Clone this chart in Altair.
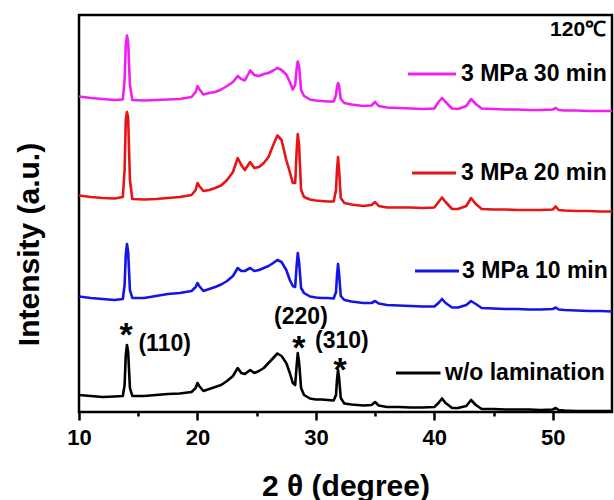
import altair as alt
import pandas as pd

# 2θ positions (degree) at which the patterns were read
two_theta = [
    10, 11, 12, 13, 13.7, 13.85, 13.95, 14.05, 14.15, 14.3,
    14.5, 15.5, 16.5, 17.5, 18.5, 19.5, 19.85, 20.0, 20.15, 20.5,
    21, 21.5, 22, 22.5, 23.0, 23.4, 23.7, 24.0, 24.45, 24.8,
    25.2, 25.6, 26.0, 26.4, 26.75, 27.1, 27.5, 27.8, 28.05, 28.25,
    28.38, 28.47, 28.58, 28.75, 29.0, 29.5, 30, 30.5, 31.0, 31.5,
    31.7, 31.78, 31.87, 31.96, 32.1, 32.4, 33, 34, 34.7, 35.0,
    35.3, 36, 37, 38, 39, 40.0, 40.35, 40.65, 40.95, 41.5,
    42, 42.7, 43.1, 43.5, 44, 45, 46, 47, 48, 49,
    50.0, 50.25, 50.5, 51, 52, 53, 54, 55,
]

# stacked intensities (a.u.)
wo_lamination = [
    17, 16, 15, 15.5, 16, 27, 57, 67, 60, 24,
    16, 16, 17, 18, 18.5, 20, 24, 29, 26, 21,
    23, 25, 27, 31, 36, 44, 39, 38, 42, 39,
    41, 44, 49, 54, 58.5, 56, 49, 39, 29, 27,
    47, 59, 50, 24, 17, 13.5, 12.5, 12.5, 12, 11.5,
    17, 32, 42, 34, 14, 8.5, 7.5, 6.5, 7, 10,
    6.5, 5, 5, 4.5, 4.5, 5, 9, 13.5, 9, 4,
    4, 6, 12, 7, 3, 3, 2.5, 2.5, 2.5, 2,
    2.5, 4, 2, 1.5, 1, 1, 1, 1,
]
mpa3_10min = [
    115.5, 114, 113, 112, 113, 127, 157, 168, 160, 122,
    114, 114, 116, 118, 119, 121, 125, 129, 126, 121,
    123, 125, 127.5, 131, 136, 144, 141, 141, 144, 141,
    142, 144, 146, 149, 152, 150, 142, 132, 126, 125,
    147, 159, 150, 124, 119, 115.5, 114.5, 114, 114, 113.5,
    120, 136, 148, 138, 116, 112, 110.5, 109, 109, 111,
    108.5, 107, 106.5, 106, 105.5, 105.5, 109, 113, 109, 104.5,
    104.5, 107, 111, 108, 104, 103.5, 103, 103, 102.5, 102.5,
    103, 104.5, 102.5, 102, 101.5, 101, 101, 100.5,
]
mpa3_20min = [
    216.5, 215, 214, 213.5, 215, 242, 292, 300, 294, 232,
    213, 212.5, 213, 214, 215, 217, 222, 229, 226, 221,
    222, 224, 226.5, 232, 240, 254, 247, 242, 250, 244,
    245, 249, 255, 267, 276.5, 272, 252, 240, 229, 229,
    262, 278, 267, 222, 215, 212.5, 211.5, 211, 210.5, 210.5,
    222, 242, 255, 242, 214, 209, 207.5, 206, 207, 210,
    206, 204.5, 204.5, 204.5, 204, 204.5, 210, 214.5, 210, 203,
    203, 206, 214, 208, 203, 202.5, 202.5, 202, 202, 202,
    202.5, 205.5, 202, 201.5, 201, 201, 200.5, 200.5,
]
mpa3_30min = [
    315.5, 314, 313, 312, 312.5, 332, 367, 376.5, 370, 327,
    312, 311.5, 312, 312.5, 313, 315, 320, 326, 323, 317.5,
    319, 320, 322.5, 326, 330, 336, 333, 331.5, 341.5, 337,
    336, 338, 339, 341.5, 344, 342, 337.5, 330, 322.5, 327,
    344, 350.5, 346, 322, 316, 312.5, 311.5, 311, 310.5, 310.5,
    317, 325, 329, 326, 313, 309, 307.5, 306, 306.5, 310,
    306, 304.5, 304, 303.5, 303, 303.5, 310, 314, 310, 303.5,
    303, 306, 313, 308, 303.5, 303, 302.5, 302.5, 302, 302,
    302.5, 304, 302, 301.5, 301.5, 301, 301, 301,
]

series_names = ["w/o lamination", "3 MPa 10 min", "3 MPa 20 min", "3 MPa 30 min"]
series_colors = ["#000000", "#1414E6", "#E61414", "#F01EF0"]

# inline legend (segment start/end, label start, level)
legend_seg_start = [36.76, 38.37, 38.12, 37.78]
legend_seg_end = [40.52, 42.08, 41.83, 41.83]
legend_text_x = [40.9, 42.34, 42.25, 42.25]
legend_level = [39, 141, 239, 338]

# peak annotations
star_x = [13.97, 28.57, 32.04]
star_y = [86.5, 73, 51]
hkl_labels = ["(110)", "(220)", "(310)"]
hkl_x = [15.02, 28.74, 29.93]
hkl_y = [68, 95, 71]
hkl_align = ["left", "center", "left"]

temp_label = ["120℃"]
temp_x = [54.5]
temp_y = [382]

FONT = "Liberation Sans"

rows = []
for name, vals in zip(series_names, [wo_lamination, mpa3_10min, mpa3_20min, mpa3_30min]):
    for x, y in zip(two_theta, vals):
        rows.append({"two_theta": x, "intensity": y, "series": name})
df = pd.DataFrame(rows)

leg = pd.DataFrame({
    "series": series_names,
    "x1": legend_seg_start,
    "x2": legend_seg_end,
    "tx": legend_text_x,
    "y": legend_level,
})
stars = pd.DataFrame({"x": star_x, "y": star_y, "t": ["*"] * len(star_x)})
hkl = pd.DataFrame({"x": hkl_x, "y": hkl_y, "t": hkl_labels, "a": hkl_align})
temp = pd.DataFrame({"x": temp_x, "y": temp_y, "t": temp_label})

xscale = alt.Scale(domain=[10, 55], nice=False, zero=False)
yscale = alt.Scale(domain=[0, 397], nice=False, zero=False)
cscale = alt.Scale(domain=series_names, range=series_colors)

x_axis = alt.Axis(
    values=[10, 15, 20, 25, 30, 35, 40, 45, 50],
    labelExpr="datum.value % 10 === 0 ? datum.label : ''",
    tickSize={"condition": {"test": "datum.value % 10 === 0", "value": 8}, "value": 4},
    tickWidth=2.5,
    tickColor="black",
    labelFont=FONT,
    labelFontWeight="bold",
    labelFontSize=22,
    labelColor="black",
    labelPadding=7,
    labelFlush=False,
    labelOverlap=False,
    domain=False,
    grid=False,
    title="2 θ (degree)",
    titleFont=FONT,
    titleFontSize=30,
    titleFontWeight="bold",
    titleColor="black",
    titleBaseline="middle",
    titleY=74,
)
y_axis = alt.Axis(
    labels=False,
    ticks=False,
    domain=False,
    grid=False,
    title="Intensity (a.u.)",
    titleFont=FONT,
    titleFontSize=30,
    titleFontWeight="bold",
    titleColor="black",
    titleAngle=270,
    titleBaseline="middle",
    titleX=-50,
    titleY=229,
)


def X(field):
    return alt.X(field, scale=xscale, axis=x_axis)


def Y(field):
    return alt.Y(field, scale=yscale, axis=y_axis)


lines = alt.Chart(df).mark_line(strokeWidth=2.6, clip=True, strokeJoin="round").encode(
    x=X("two_theta:Q"),
    y=Y("intensity:Q"),
    color=alt.Color("series:N", scale=cscale, legend=None),
    detail="series:N",
)

leg_rules = alt.Chart(leg).mark_rule(strokeWidth=3).encode(
    x=X("x1:Q"),
    x2="x2:Q",
    y=Y("y:Q"),
    color=alt.Color("series:N", scale=cscale, legend=None),
)
leg_text = alt.Chart(leg).mark_text(
    align="left", baseline="middle", font=FONT, fontWeight="bold", fontSize=23, color="black"
).encode(x=X("tx:Q"), y=Y("y:Q"), text="series:N")

star_text = alt.Chart(stars).mark_text(
    align="center", baseline="middle", font=FONT, fontWeight="bold", fontSize=34, dy=10, color="black"
).encode(x=X("x:Q"), y=Y("y:Q"), text="t:N")

hkl_left = alt.Chart(hkl[hkl["a"] == "left"]).mark_text(
    align="left", baseline="middle", font=FONT, fontWeight="bold", fontSize=23, color="black"
).encode(x=X("x:Q"), y=Y("y:Q"), text="t:N")

hkl_center = alt.Chart(hkl[hkl["a"] == "center"]).mark_text(
    align="center", baseline="middle", font=FONT, fontWeight="bold", fontSize=23, color="black"
).encode(x=X("x:Q"), y=Y("y:Q"), text="t:N")

temp_text = alt.Chart(temp).mark_text(
    align="right", baseline="middle", font=FONT, fontWeight="bold", fontSize=21, color="black"
).encode(x=X("x:Q"), y=Y("y:Q"), text="t:N")

chart = alt.layer(
    lines, leg_rules, leg_text, star_text, hkl_left, hkl_center, temp_text
).properties(
    width=533,
    height=397,
    autosize=alt.AutoSizeParams(type="none"),
    padding={"left": 79, "top": 15, "right": 2, "bottom": 88},
    background="white",
).configure_view(
    stroke="black", strokeWidth=2.5
)

chart.save("out.html", embed_options={"renderer": "svg", "actions": False})
